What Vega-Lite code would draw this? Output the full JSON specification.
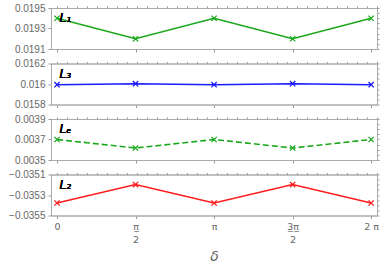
{
  "$schema": "https://vega.github.io/schema/vega-lite/v6.json",
  "padding": {"left": 2, "top": 2, "right": 4, "bottom": 0},
  "background": "white",
  "spacing": 2.5,
  "data": {"values": [
    {"series": "L1", "delta": 0, "value": 0.01940},
    {"series": "L1", "delta": 1.5708, "value": 0.01920},
    {"series": "L1", "delta": 3.1416, "value": 0.01940},
    {"series": "L1", "delta": 4.7124, "value": 0.01920},
    {"series": "L1", "delta": 6.2832, "value": 0.01940},
    {"series": "L3", "delta": 0, "value": 0.015993},
    {"series": "L3", "delta": 1.5708, "value": 0.016003},
    {"series": "L3", "delta": 3.1416, "value": 0.015993},
    {"series": "L3", "delta": 4.7124, "value": 0.016003},
    {"series": "L3", "delta": 6.2832, "value": 0.015993},
    {"series": "Le", "delta": 0, "value": 0.003700},
    {"series": "Le", "delta": 1.5708, "value": 0.003617},
    {"series": "Le", "delta": 3.1416, "value": 0.003700},
    {"series": "Le", "delta": 4.7124, "value": 0.003617},
    {"series": "Le", "delta": 6.2832, "value": 0.003700},
    {"series": "L2", "delta": 0, "value": -0.035378},
    {"series": "L2", "delta": 1.5708, "value": -0.035198},
    {"series": "L2", "delta": 3.1416, "value": -0.035378},
    {"series": "L2", "delta": 4.7124, "value": -0.035198},
    {"series": "L2", "delta": 6.2832, "value": -0.035378}
  ]},
  "vconcat": [
    {
      "width": 326, "height": 41,
      "transform": [{"filter": "datum.series === 'L1'"}],
      "resolve": {"axis": {"x": "independent", "y": "independent"}},
      "layer": [
        {"mark": {"type": "line", "color": "#1aa81a", "strokeWidth": 1.6},
         "encoding": {
           "x": {"field": "delta", "type": "quantitative", "scale": {"domain": [-0.12, 6.40], "nice": false, "zero": false},
                 "axis": {"orient": "bottom", "values": [0, 1.5708, 3.1416, 4.7124, 6.2832], "labels": false, "title": null}},
           "y": {"field": "value", "type": "quantitative", "scale": {"domain": [0.0191, 0.0195], "nice": false, "zero": false},
                 "axis": {"orient": "left", "values": [0.0191, 0.0193, 0.0195], "format": ".4~f", "title": null}}}},
        {"mark": {"type": "point", "shape": "M-1,-1L1,1M-1,1L1,-1", "size": 28, "color": "#1aa81a", "strokeWidth": 1.3, "filled": false, "opacity": 1},
         "encoding": {
           "x": {"field": "delta", "type": "quantitative", "axis": {"orient": "top", "tickCount": 35, "labels": false, "tickSize": 2, "title": null}},
           "y": {"field": "value", "type": "quantitative", "axis": {"orient": "right", "tickCount": 10, "labels": false, "tickSize": 2, "title": null}}}},
        {"mark": {"type": "text", "text": "L₁", "fontStyle": "italic", "fontSize": 12, "font": "DejaVu Sans", "align": "left", "baseline": "top", "color": "black"},
         "encoding": {"x": {"datum": 0.05, "type": "quantitative", "axis": null}, "y": {"datum": 0.01945, "type": "quantitative", "axis": null}}}
      ]
    },
    {
      "width": 326, "height": 41,
      "transform": [{"filter": "datum.series === 'L3'"}],
      "resolve": {"axis": {"x": "independent", "y": "independent"}},
      "layer": [
        {"mark": {"type": "line", "color": "#1a1aff", "strokeWidth": 1.6},
         "encoding": {
           "x": {"field": "delta", "type": "quantitative", "scale": {"domain": [-0.12, 6.40], "nice": false, "zero": false},
                 "axis": {"orient": "bottom", "values": [0, 1.5708, 3.1416, 4.7124, 6.2832], "labels": false, "title": null}},
           "y": {"field": "value", "type": "quantitative", "scale": {"domain": [0.0158, 0.0162], "nice": false, "zero": false},
                 "axis": {"orient": "left", "values": [0.0158, 0.016, 0.0162], "format": ".4~f", "title": null}}}},
        {"mark": {"type": "point", "shape": "M-1,-1L1,1M-1,1L1,-1", "size": 28, "color": "#1a1aff", "strokeWidth": 1.3, "filled": false, "opacity": 1},
         "encoding": {
           "x": {"field": "delta", "type": "quantitative", "axis": {"orient": "top", "tickCount": 35, "labels": false, "tickSize": 2, "title": null}},
           "y": {"field": "value", "type": "quantitative", "axis": {"orient": "right", "tickCount": 10, "labels": false, "tickSize": 2, "title": null}}}},
        {"mark": {"type": "text", "text": "L₃", "fontStyle": "italic", "fontSize": 12, "font": "DejaVu Sans", "align": "left", "baseline": "top", "color": "black"},
         "encoding": {"x": {"datum": 0.05, "type": "quantitative", "axis": null}, "y": {"datum": 0.01615, "type": "quantitative", "axis": null}}}
      ]
    },
    {
      "width": 326, "height": 41,
      "transform": [{"filter": "datum.series === 'Le'"}],
      "resolve": {"axis": {"x": "independent", "y": "independent"}},
      "layer": [
        {"mark": {"type": "line", "color": "#1aa81a", "strokeWidth": 1.6, "strokeDash": [6, 3]},
         "encoding": {
           "x": {"field": "delta", "type": "quantitative", "scale": {"domain": [-0.12, 6.40], "nice": false, "zero": false},
                 "axis": {"orient": "bottom", "values": [0, 1.5708, 3.1416, 4.7124, 6.2832], "labels": false, "title": null}},
           "y": {"field": "value", "type": "quantitative", "scale": {"domain": [0.0035, 0.0039], "nice": false, "zero": false},
                 "axis": {"orient": "left", "values": [0.0035, 0.0037, 0.0039], "format": ".4~f", "title": null}}}},
        {"mark": {"type": "point", "shape": "M-1,-1L1,1M-1,1L1,-1", "size": 28, "color": "#1aa81a", "strokeWidth": 1.3, "filled": false, "opacity": 1},
         "encoding": {
           "x": {"field": "delta", "type": "quantitative", "axis": {"orient": "top", "tickCount": 35, "labels": false, "tickSize": 2, "title": null}},
           "y": {"field": "value", "type": "quantitative", "axis": {"orient": "right", "tickCount": 10, "labels": false, "tickSize": 2, "title": null}}}},
        {"mark": {"type": "text", "text": "Lₑ", "fontStyle": "italic", "fontSize": 12, "font": "DejaVu Sans", "align": "left", "baseline": "top", "color": "black"},
         "encoding": {"x": {"datum": 0.05, "type": "quantitative", "axis": null}, "y": {"datum": 0.00385, "type": "quantitative", "axis": null}}}
      ]
    },
    {
      "width": 326, "height": 41,
      "transform": [{"filter": "datum.series === 'L2'"}],
      "resolve": {"axis": {"x": "independent", "y": "independent"}},
      "layer": [
        {"mark": {"type": "line", "color": "#ff1a1a", "strokeWidth": 1.6},
         "encoding": {
           "x": {"field": "delta", "type": "quantitative", "scale": {"domain": [-0.12, 6.40], "nice": false, "zero": false},
                 "axis": {"orient": "bottom", "values": [0, 1.5708, 3.1416, 4.7124, 6.2832], "title": "δ", "titleFont": "DejaVu Sans", "titleFontStyle": "italic", "titleFontSize": 14, "titleFontWeight": "normal", "titleColor": "#666666", "titlePadding": 5,
                          "labelLineHeight": 13, "labelBaseline": "top", "labelFont": "DejaVu Sans", "labelFontSize": 9.5,
                          "labelExpr": "datum.value < 0.5 ? '0' : datum.value < 2 ? ['π̲', '2'] : datum.value < 4 ? 'π' : datum.value < 5 ? ['3̲π̲', '2'] : '2 π'"}},
           "y": {"field": "value", "type": "quantitative", "scale": {"domain": [-0.0355, -0.0351], "nice": false, "zero": false},
                 "axis": {"orient": "left", "values": [-0.0355, -0.0353, -0.0351], "format": ".4~f", "title": null}}}},
        {"mark": {"type": "point", "shape": "M-1,-1L1,1M-1,1L1,-1", "size": 28, "color": "#ff1a1a", "strokeWidth": 1.3, "filled": false, "opacity": 1},
         "encoding": {
           "x": {"field": "delta", "type": "quantitative", "axis": {"orient": "top", "tickCount": 35, "labels": false, "tickSize": 2, "title": null}},
           "y": {"field": "value", "type": "quantitative", "axis": {"orient": "right", "tickCount": 10, "labels": false, "tickSize": 2, "title": null}}}},
        {"mark": {"type": "text", "text": "L₂", "fontStyle": "italic", "fontSize": 12, "font": "DejaVu Sans", "align": "left", "baseline": "top", "color": "black"},
         "encoding": {"x": {"datum": 0.05, "type": "quantitative", "axis": null}, "y": {"datum": -0.03515, "type": "quantitative", "axis": null}}}
      ]
    }
  ],
  "config": {
    "view": {"stroke": "#aaaaaa", "strokeWidth": 1},
    "axis": {
      "grid": false,
      "domainColor": "#aaaaaa",
      "tickColor": "#999999",
      "tickSize": 3,
      "labelColor": "#666666",
      "labelFont": "Liberation Sans",
      "labelFontSize": 10,
      "labelPadding": 3,
      "minExtent": 0
    },
    "axisLeft": {"minExtent": 48, "maxExtent": 48},
    "axisRight": {"minExtent": 0, "maxExtent": 4}
  }
}
